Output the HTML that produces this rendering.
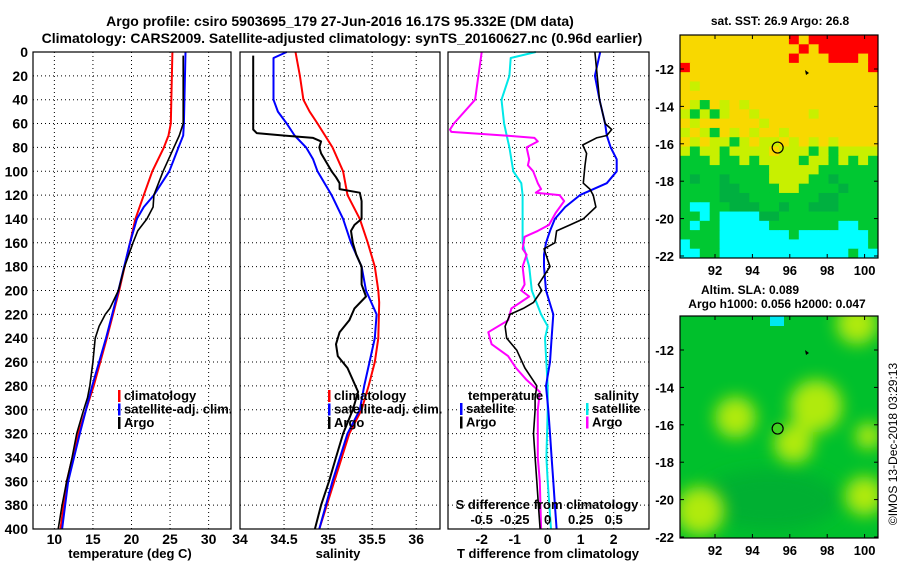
<!DOCTYPE html>
<html><head><meta charset="utf-8"><style>
body{margin:0;background:#fff}
svg{display:block;font-family:"Liberation Sans",sans-serif;font-weight:bold}
</style></head><body>
<svg id="c" width="900" height="580" viewBox="0 0 900 580"></svg>
<script>
// ---- data ----
const depthT = [0,60,70,80,100,120,140,160,200,240,280,320,360,400];
const tempClim = [25.3,25.1,24.8,24.2,22.7,21.6,20.5,19.8,18.4,16.8,15.1,13.1,11.6,10.8];
const depthTS = [0,60,70,80,100,120,130,140,160,200,240,280,320,360,400];
const tempSat = [27.0,26.8,26.7,26.1,24.9,22.9,21.6,20.7,19.8,18.3,16.7,14.9,13.3,11.8,11.0];
const depthTA = [3,60,70,80,100,120,130,140,150,160,180,200,215,220,230,240,260,280,290,300,320,340,360,380,400];
const tempArgo = [26.7,26.7,26.2,25.5,24.1,22.9,22.8,22.0,20.8,20.2,19.1,18.3,17.2,16.6,15.8,15.3,15.0,14.6,14.3,13.8,12.9,12.3,11.6,11.0,10.5];

const depthSC = [0,20,40,50,60,80,100,120,140,160,180,200,210,240,260,280,300,320,360,400];
const salClim = [34.63,34.68,34.72,34.79,34.88,35.05,35.17,35.22,35.36,35.45,35.53,35.57,35.58,35.57,35.53,35.46,35.38,35.24,35.07,34.9];
const depthSS = [0,5,40,50,60,70,80,90,100,120,140,160,180,200,220,240,260,280,300,320,360,400];
const salSat = [34.53,34.38,34.38,34.43,34.53,34.62,34.75,34.83,34.88,35.04,35.17,35.26,35.38,35.43,35.55,35.53,35.47,35.41,35.36,35.22,35.05,34.9];
const depthSA = [3,65,68,70,72,75,80,85,95,100,105,110,115,118,125,140,145,150,160,170,180,195,205,215,225,235,245,255,265,275,285,300,320,340,360,380,400];
const salArgo = [34.15,34.15,34.19,34.49,34.83,34.92,34.9,34.92,35.0,35.04,35.09,35.13,35.13,35.36,35.38,35.38,35.30,35.26,35.28,35.32,35.38,35.38,35.43,35.30,35.24,35.13,35.09,35.11,35.22,35.28,35.34,35.28,35.17,35.09,35.01,34.92,34.85];

const depthDTS = [0,20,40,60,70,80,90,100,110,120,130,140,150,160,170,180,200,220,240,260,280,300,320,340,360,380,400];
const dTSat = [1.59,1.43,1.57,1.74,1.79,1.91,2.09,2.09,1.79,0.98,0.53,0.22,0.07,-0.05,-0.11,-0.11,-0.05,0.17,0.12,0.07,-0.05,0.02,0.07,0.12,0.17,0.22,0.27];
const depthDTA = [0,40,60,65,70,72,78,85,95,110,115,120,130,140,145,150,160,165,170,180,195,200,210,215,220,230,240,250,265,280,290,300,320,340,360,380,400];
const dTArgo = [1.43,1.57,1.74,1.94,1.79,1.48,1.06,1.18,1.13,1.08,1.28,1.38,1.46,1.08,0.68,0.27,0.22,-0.11,-0.05,0.07,-0.28,-0.18,-0.43,-0.74,-1.14,-1.29,-1.24,-0.94,-0.69,-0.33,-0.38,-0.38,-0.43,-0.38,-0.33,-0.28,-0.23];
const depthDSS = [0,5,20,40,60,70,80,100,110,120,140,160,180,200,220,230,240,280,300,340,360,400];
const dSSat = [-0.09,-0.28,-0.29,-0.35,-0.33,-0.31,-0.29,-0.26,-0.2,-0.19,-0.19,-0.19,-0.14,-0.12,-0.05,0,-0.02,0,0,-0.01,0,0.025];
const depthDSA = [0,20,40,60,65,67,70,72,75,80,90,95,100,110,115,118,120,125,135,145,150,155,165,170,180,195,200,205,215,225,235,245,255,265,275,285,300,340,360,400];
const dSArgo = [-0.5,-0.525,-0.55,-0.71,-0.74,-0.73,-0.33,-0.1,-0.075,-0.16,-0.14,-0.15,-0.11,-0.075,-0.05,-0.09,0.09,0.125,0.06,0.01,-0.075,-0.175,-0.19,-0.16,-0.19,-0.175,-0.2,-0.14,-0.275,-0.3,-0.45,-0.425,-0.3,-0.24,-0.16,-0.06,-0.075,-0.075,-0.06,-0.05];

const depthTicks = [0,20,40,60,80,100,120,140,160,180,200,220,240,260,280,300,320,340,360,380,400];
const tempTicks = [10,15,20,25,30];
const salTicks = [34,34.5,35,35.5,36];
const dTTicks = [-2,-1,0,1,2];
const dSTicks = [-0.5,-0.25,0,0.25,0.5];
const latTicks = [-12,-14,-16,-18,-20,-22];
const lonTicks = [92,94,96,98,100];

// SST grid (rows north->south); Y=warm, R=hot, L=yellow-green, G=green, D=dark green, C=cyan
const sstGrid = [
"YYYYYYYYYYYRYRRRRRRR",
"YYYYYYYYYYYYRYRRRRRR",
"YYYYYYYYYYYRYYYRRRYR",
"RYYYYYYYYYYYYYYYYYYR",
"YYYYYYYYYYYYYYYYYYYY",
"YLYYYYYYYYYYYYYYYYYY",
"YYYYYYYYYYYYYYYYYYYY",
"YLGYLYLYYYYYYYYYYYYY",
"LGLGLYYLYYYYYLYYYYYY",
"YLYYYYYYLYYYYYYYYYYY",
"LYLGYLYLYYLYYYYYYYYY",
"YLYLLGLYLLYLYLYLYYYY",
"LGLLGLLLLYLLLGLGLLLL",
"GGGLGGLGLLLLGLLGLGLG",
"GGGGGGGGGLLLLLGGGGGG",
"GDGGDGGGGLLLLGGDGGGG",
"GGGGDDGGGGLLGGGGDGGG",
"GGGGDDDGGGGGGGDDGGGG",
"GCCGGDDDGGDGGDDDGGGG",
"GGCGCCCCDDGGGGGGGGGG",
"GCGGCCCCCGGGGGGGCCGG",
"GGGGCCCCCCCGCCCCCCCG",
"CGGGCCCCCCCCCCCCCCCG",
"CCGGCCCCCCCCCCCCCGCC"];
// SLA high blobs: lon, lat, radius(deg)
const slaLon = [99.6, 93.1, 97.4, 96.2, 91.2, 100.0, 100.2];
const slaLat = [-10.6, -15.6, -15.0, -17.0, -20.6, -19.8, -16.6];
const slaRad = [1.1, 1.1, 1.4, 1.05, 1.3, 1.05, 0.7];
const argoLon = 95.35, argoLat = -16.2;

// ---- drawing ----
const NS='http://www.w3.org/2000/svg';
const svg=document.getElementById('c');
function mk(tag,attrs,parent){const e=document.createElementNS(NS,tag);for(const k in attrs)e.setAttribute(k,attrs[k]);(parent||svg).appendChild(e);return e;}
function txt(x,y,s,size,anchor,parent){const t=mk('text',{x:x,y:y,'font-size':size,'text-anchor':anchor||'middle'},parent);t.textContent=s;return t;}

const Y0=52,Y1=529;
const yD=d=>Y0+(Y1-Y0)*d/400;
const panels=[
 {name:'temperature',x0:33,x1:231,v0:7.23,v1:32.9},
 {name:'salinity',x0:240,x1:440,v0:34,v1:36.27},
 {name:'difference',x0:448,x1:649,v0:-3.02,v1:3.07}];
function xs(p,v){return p.x0+(p.x1-p.x0)*(v-p.v0)/(p.v1-p.v0);}
const xT=v=>xs(panels[0],v), xS=v=>xs(panels[1],v), xDT=v=>xs(panels[2],v), xDS=v=>xs(panels[2],v*4);

// titles
let t=txt(340,26,'Argo profile: csiro 5903695_179 27-Jun-2016 16.17S 95.332E (DM data)',14);

t=txt(342,43,'Climatology: CARS2009. Satellite-adjusted climatology: synTS_20160627.nc (0.96d earlier)',14);


function grid(g,p,xticks,xfn){
  depthTicks.forEach(d=>{if(d>0&&d<400)mk('line',{x1:p.x0,x2:p.x1,y1:yD(d),y2:yD(d),stroke:'#000','stroke-width':1,'stroke-dasharray':'1,3'},g);});
  xticks.forEach(v=>{const x=xfn(v);if(x>p.x0+1&&x<p.x1-1)mk('line',{x1:x,x2:x,y1:Y0,y2:Y1,stroke:'#000','stroke-width':1,'stroke-dasharray':'1,3'},g);});
}
function line(g,xa,ya,xfn,color,w,name){
  const pts=xa.map((v,i)=>xfn(v).toFixed(1)+','+yD(ya[i]).toFixed(1)).join(' ');
  const pl=mk('polyline',{points:pts,fill:'none',stroke:color,'stroke-width':w,'stroke-linejoin':'round'},g);
  
  
}
function frame(g,p){mk('rect',{x:p.x0,y:Y0,width:p.x1-p.x0,height:Y1-Y0,fill:'none',stroke:'#000','stroke-width':1.2},g);}
function legend(g,x,y,items){
  items.forEach((it,i)=>{
    const r=mk('rect',{x:x,y:y+i*13.5-10,width:2.5,height:12,fill:it[1]},g);
    
    const tt=txt(x+6,y+i*13.5,it[0],13,'start',g);
    
  });
}

// Panel 1
let g=mk('g',{});
grid(g,panels[0],tempTicks,xT);
line(g,tempClim,depthT,xT,'#ff0000',2,'temp-climatology-line');
line(g,tempSat,depthTS,xT,'#0000ff',2,'temp-satellite-line');
line(g,tempArgo,depthTA,xT,'#000',1.6,'temp-argo-line');
frame(g,panels[0]);
depthTicks.forEach(d=>{const l=txt(28,yD(d)+5,String(d),14,'end',g);});
tempTicks.forEach(v=>{const l=txt(xT(v),544,String(v),14,'middle',g);});
t=txt(130,558,'temperature (deg C)',13,'middle',g);
legend(g,118,400,[['climatology','#ff0000'],['satellite-adj. clim.','#0000ff'],['Argo','#000']]);

// Panel 2
g=mk('g',{});
grid(g,panels[1],salTicks,xS);
line(g,salClim,depthSC,xS,'#ff0000',2,'sal-climatology-line');
line(g,salSat,depthSS,xS,'#0000ff',2,'sal-satellite-line');
line(g,salArgo,depthSA,xS,'#000',2,'sal-argo-line');
frame(g,panels[1]);
salTicks.forEach(v=>{const l=txt(xS(v),544,String(v),14,'middle',g);});
t=txt(338,558,'salinity',13,'middle',g);
legend(g,328,400,[['climatology','#ff0000'],['satellite-adj. clim.','#0000ff'],['Argo','#000']]);

// Panel 3
g=mk('g',{});
grid(g,panels[2],dTTicks,xDT);
line(g,dSSat,depthDSS,xDS,'#00e8e8',2,'sal-diff-satellite-line');
line(g,dSArgo,depthDSA,xDS,'#ff00ff',2,'sal-diff-argo-line');
line(g,dTSat,depthDTS,xDT,'#0000ff',2,'temp-diff-satellite-line');
line(g,dTArgo,depthDTA,xDT,'#000',1.6,'temp-diff-argo-line');
frame(g,panels[2]);
dTTicks.forEach(v=>{const l=txt(xDT(v),544,String(v),14,'middle',g);});
dSTicks.forEach(v=>{const l=txt(xDS(v),524,String(v),13,'middle',g);});
t=txt(547,509,'S difference from climatology',13,'middle',g);
t=txt(548,558,'T difference from climatology',13,'middle',g);
t=txt(468,400,'temperature',13,'start',g);
t=txt(594,400,'salinity',13,'start',g);
legend(g,460,413,[['satellite','#0000ff'],['Argo','#000']]);
legend(g,586,413,[['satellite','#00e8e8'],['Argo','#ff00ff']]);

// Maps
const xL=lon=>715+(lon-92)*18.7;
function mapAxes(g,top,bot,lat12y){
  const yLat=lat=>lat12y+(-12-lat)*18.7;
  mk('rect',{x:680,y:top,width:198,height:bot-top,fill:'none',stroke:'#000','stroke-width':1.2},g);
  latTicks.forEach(l=>{const y=yLat(l);
    mk('line',{x1:680,x2:684,y1:y,y2:y,stroke:'#000'},g);mk('line',{x1:874,x2:878,y1:y,y2:y,stroke:'#000'},g);
    const tt=txt(674,y+5,String(l),13,'end',g);});
  lonTicks.forEach(l=>{const x=xL(l);
    mk('line',{x1:x,x2:x,y1:top,y2:top+4,stroke:'#000'},g);mk('line',{x1:x,x2:x,y1:bot-4,y2:bot,stroke:'#000'},g);
    const tt=txt(x,bot+17,String(l),13,'middle',g);});
  return yLat;
}
const colors={Y:'#f8d800',R:'#ff0000',L:'#c8f000',G:'#00c832',D:'#00b040',C:'#00ffff'};
// map 1
g=mk('g',{});
{const top=35,bot=258,cw=198/sstGrid[0].length,ch=(bot-top)/sstGrid.length;
 sstGrid.forEach((row,r)=>{for(let c=0;c<row.length;c++){
   const cell=mk('rect',{x:680+c*cw,y:top+r*ch,width:cw+0.5,height:ch+0.5,fill:colors[row[c]]},g);
   
   }});
 const yLat=mapAxes(g,top,bot,69);
 const m=mk('circle',{cx:xL(argoLon),cy:yLat(argoLat),r:5.5,fill:'none',stroke:'#000','stroke-width':1.2},g);
 
 mk('path',{d:'M805,70 l4,3 l-3,2 z',fill:'#000'},g);
}
t=txt(780,25,'sat. SST: 26.9 Argo: 26.8',12);
// map 2
g=mk('g',{});
{const top=316,bot=538;
 const defs=mk('defs',{},g);
 const f=mk('filter',{id:'bl',x:'-50%',y:'-50%',width:'200%',height:'200%'},defs);mk('feGaussianBlur',{stdDeviation:8},f);
 const cp=mk('clipPath',{id:'cp2'},defs);mk('rect',{x:680,y:top,width:198,height:bot-top},cp);
 const inner=mk('g',{'clip-path':'url(#cp2)'},g);
 mk('rect',{x:680,y:top,width:198,height:bot-top,fill:'#00c02c'},inner);
 const yLat=lat=>350+(-12-lat)*18.7;
 mk('ellipse',{cx:770,cy:500,rx:70,ry:30,fill:'#00b030',filter:'url(#bl)'},inner);
 const blur=mk('g',{filter:'url(#bl)'},inner);
 slaLon.forEach((lo,i)=>{
   const b=mk('circle',{cx:xL(lo),cy:yLat(slaLat[i]),r:slaRad[i]*18.7,fill:'#b0ea10'},blur);
   
   
 });
 mk('rect',{x:770,y:316,width:14,height:10,fill:'#00e8f0'},inner);
 mapAxes(g,top,bot,350);
 const m=mk('circle',{cx:xL(argoLon),cy:yLat(argoLat),r:5.5,fill:'#40d020',stroke:'#000','stroke-width':1.2},g);
 
 mk('path',{d:'M805,350 l4,3 l-3,2 z',fill:'#000'},g);
}
t=txt(750,294,'Altim. SLA: 0.089',12);
t=txt(777,308,'Argo h1000: 0.056 h2000: 0.047',12);
t=txt(0,0,'©IMOS 13-Dec-2018 03:29:13',12,'middle');
t.setAttribute('transform','translate(897,444) rotate(-90)');t.setAttribute('font-weight','normal');

</script>
</body></html>
